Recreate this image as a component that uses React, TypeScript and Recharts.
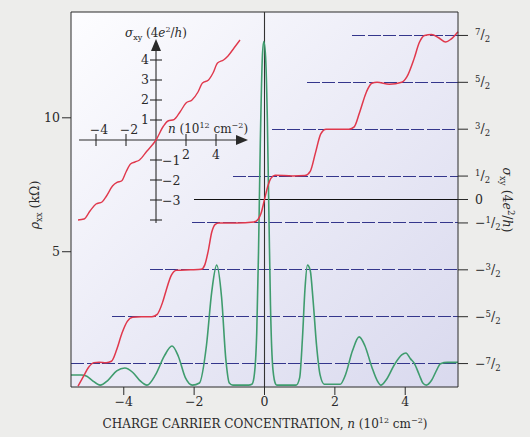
import {
  ComposedChart,
  Line,
  XAxis,
  YAxis,
  CartesianGrid,
  ReferenceLine,
  ReferenceDot
} from 'recharts';

// main sigma_xy (4e^2/h) vs n (10^12 cm^-2), right axis
const SIGMA_MAIN: [number, number][] = [
  [-5.3, -3.98], [-5.15, -3.78], [-5.0, -3.58], [-4.85, -3.48], [-4.7, -3.47], [-4.5, -3.48],
  [-4.35, -3.45], [-4.2, -3.2], [-4.05, -2.85], [-3.9, -2.6], [-3.75, -2.51], [-3.5, -2.5],
  [-3.2, -2.5], [-3.05, -2.45], [-2.9, -2.2], [-2.8, -1.95], [-2.65, -1.62], [-2.5, -1.51],
  [-2.1, -1.5], [-1.8, -1.49], [-1.7, -1.4], [-1.6, -1.1], [-1.5, -0.7], [-1.4, -0.53],
  [-1.3, -0.5], [-0.8, -0.5], [-0.3, -0.48], [-0.18, -0.42], [-0.1, -0.3], [0, 0],
  [0.1, 0.3], [0.18, 0.45], [0.3, 0.52], [0.8, 0.5], [1.15, 0.51], [1.3, 0.6], [1.45, 1.0],
  [1.6, 1.4], [1.75, 1.5], [2.0, 1.5], [2.4, 1.5], [2.55, 1.55], [2.7, 1.85], [2.9, 2.3],
  [3.05, 2.48], [3.2, 2.5], [3.55, 2.46], [3.9, 2.5], [4.05, 2.62], [4.25, 3.0], [4.4, 3.35],
  [4.55, 3.5], [4.75, 3.52], [4.95, 3.45], [5.15, 3.36], [5.3, 3.42], [5.5, 3.58]
];

// rho_xx (kOhm) vs n, left axis
const RHO: [number, number][] = [
  [-5.5, 0.4], [-5.2, 0.4], [-5.05, 0.35], [-4.9, 0.2], [-4.67, 0.02], [-4.45, 0.2],
  [-4.2, 0.55], [-3.97, 0.66], [-3.75, 0.5], [-3.55, 0.2], [-3.34, 0.02], [-3.1, 0.4],
  [-2.85, 1.1], [-2.63, 1.48], [-2.45, 1.1], [-2.25, 0.3], [-2.05, 0.02], [-1.85, 0.1],
  [-1.65, 1.5], [-1.5, 3.5], [-1.36, 4.5], [-1.22, 3.3], [-1.1, 1.0], [-1.0, 0.1],
  [-0.9, 0.02], [-0.45, 0.02], [-0.36, 0.05], [-0.3, 0.3], [-0.22, 2], [-0.17, 5],
  [-0.12, 9], [-0.06, 12.3], [-0.02, 12.85], [0.03, 12.3], [0.08, 10], [0.13, 6],
  [0.17, 3], [0.24, 0.6], [0.32, 0.05], [0.35, 0.02], [0.9, 0.02], [1.0, 0.3],
  [1.08, 1.8], [1.15, 3.6], [1.22, 4.5], [1.3, 4.3], [1.38, 3.2], [1.48, 1.5],
  [1.58, 0.4], [1.7, 0.05], [2.15, 0.05], [2.3, 0.4], [2.5, 1.3], [2.69, 1.82],
  [2.85, 1.5], [3.05, 0.7], [3.2, 0.2], [3.31, 0.02], [3.45, 0.2], [3.7, 0.8],
  [3.9, 1.15], [4.02, 1.22], [4.15, 1.0], [4.25, 0.85], [4.4, 0.4], [4.5, 0.1],
  [4.6, 0.02], [4.75, 0.2], [4.9, 0.6], [5.0, 0.82], [5.2, 0.87], [5.5, 0.87]
];

// inset: sigma_xy (4e^2/h) vs n
const SIGMA_INSET: [number, number][] = [
  [-5.2, -4.0], [-4.8, -3.95], [-4.4, -3.55], [-4.0, -3.2], [-3.6, -3.1], [-3.3, -2.8],
  [-2.9, -2.3], [-2.6, -2.12], [-2.3, -2.05], [-2.0, -1.6], [-1.7, -1.2], [-1.4, -1.1],
  [-1.1, -1.0], [-0.6, -0.55], [0, 0], [0.5, 0.7], [0.8, 0.95], [1.2, 1.02], [1.6, 1.4],
  [2.0, 1.85], [2.4, 2.0], [2.8, 2.4], [3.1, 2.85], [3.5, 3.0], [3.8, 3.35], [4.1, 3.85],
  [4.5, 4.0], [4.8, 4.2], [5.2, 4.6], [5.6, 5.0]
];

// plateau guide lines: level and where they start (n)
const PLATEAUS: [number, number][] = [
  [3.5, 2.5], [2.5, 1.2], [1.5, 0.2], [0.5, -0.9],
  [-0.5, -2.07], [-1.5, -3.26], [-2.5, -4.33], [-3.5, -5.5]
];
const ZERO_START = -2.0;

const X_TICKS = [-4, -2, 0, 2, 4];
const RHO_TICKS = [5, 10];
const SIGMA_TICKS = [-3.5, -2.5, -1.5, -0.5, 0, 0.5, 1.5, 2.5, 3.5];
const INSET_X_TICKS = [-4, -2, 2, 4];
const INSET_Y_TICKS = [-4, -3, -2, -1, 1, 2, 3, 4];

const toPts = (arr: [number, number][]) => arr.map(([x, y]) => ({ x, y }));

const FONT = "'DejaVu Serif', serif";
const INK = '#2a2a2a';
const RED = '#e0384c';
const GREEN = '#3f9c6e';
const NAVY = '#34368c';
const minus = (v: number) => (v < 0 ? '\u2212' + Math.abs(v) : String(v));

const SigmaTick = (props: any) => {
  const { x, y, payload } = props;
  const v: number = payload.value;
  if (v === 0) {
    return <text x={x + 5} y={y + 4} fontSize={12.5} fontFamily={FONT} fill={INK}>0</text>;
  }
  return (
    <text x={x + 5} y={y + 4} fontSize={12.5} fontFamily={FONT} fill={INK}>
      {v < 0 ? '\u2212' : ''}
      <tspan fontSize={8.5} dy={-4}>{Math.abs(v) * 2}</tspan>
      <tspan dy={4}>/</tspan>
      <tspan fontSize={8.5} dy={3}>2</tspan>
    </text>
  );
};

const textShape = (s: any, anchor: string, dx: number, dy: number, size = 12) =>
  (p: any) => (
    <text x={p.cx + dx} y={p.cy + dy} textAnchor={anchor} fontSize={size} fontFamily={FONT} fill={INK}>
      {s}
    </text>
  );

const App = () => {
  return (
    <div style={{ position: 'absolute', left: 0, top: 0, width: 530, height: 437, background: '#ededeb' }}>
      <ComposedChart width={530} height={437} margin={{ top: 12, right: 12, bottom: 20, left: 31 }}>
        <defs>
          <linearGradient id="plotBg" x1="0" y1="0" x2="1" y2="1">
            <stop offset="0%" stopColor="#fdfdff" />
            <stop offset="100%" stopColor="#d9d9ee" />
          </linearGradient>
        </defs>
        <CartesianGrid xAxisId="n" yAxisId="rho" horizontal={false} vertical={false} fill="url(#plotBg)" />
        <XAxis
          xAxisId="n"
          dataKey="x"
          type="number"
          domain={[-5.5, 5.5]}
          ticks={X_TICKS}
          tickFormatter={minus}
          tickSize={8}
          height={30}
          stroke={INK}
          tick={{ fontSize: 12.5, fontFamily: FONT, fill: INK }}
          label={{
            content: () => (
              <text x={265} y={428} textAnchor="middle" fontSize={12} fontFamily={FONT} fill={INK}>
                CHARGE CARRIER CONCENTRATION, <tspan fontStyle="italic">n</tspan> (10
                <tspan fontSize={8} dy={-5}>12</tspan>
                <tspan dy={5}> cm</tspan>
                <tspan fontSize={8} dy={-5}>{'\u22122'}</tspan>
                <tspan dy={5}>)</tspan>
              </text>
            )
          }}
        />
        <XAxis xAxisId="ix" dataKey="x" type="number" domain={[-5.667, 20.133]} height={0} hide />
        <YAxis
          yAxisId="rho"
          type="number"
          domain={[-0.05, 13.95]}
          ticks={RHO_TICKS}
          tickSize={9}
          width={40}
          stroke={INK}
          tick={{ fontSize: 12.5, fontFamily: FONT, fill: INK }}
          label={{
            content: () => (
              <text transform="translate(39,205) rotate(-90)" textAnchor="middle" fontSize={12.5} fontFamily={FONT} fill={INK}>
                <tspan fontStyle="italic">{'\u03c1'}</tspan>
                <tspan fontSize={8.5} dy={3}>xx</tspan>
                <tspan dy={-3}> (k{'\u03a9'})</tspan>
              </text>
            )
          }}
        />
        <YAxis
          yAxisId="s"
          orientation="right"
          type="number"
          domain={[-4, 4]}
          ticks={SIGMA_TICKS}
          tickSize={10}
          width={60}
          stroke={INK}
          tick={<SigmaTick />}
          label={{
            content: () => (
              <text transform="translate(503,200) rotate(90)" textAnchor="middle" fontSize={12.5} fontFamily={FONT} fill={INK}>
                <tspan fontStyle="italic">{'\u03c3'}</tspan>
                <tspan fontSize={8.5} dy={3}>xy</tspan>
                <tspan dy={-3}> (4</tspan>
                <tspan fontStyle="italic">e</tspan>
                <tspan fontSize={8.5} dy={-5}>2</tspan>
                <tspan dy={5}>/</tspan>
                <tspan fontStyle="italic">h</tspan>
                <tspan>)</tspan>
              </text>
            )
          }}
        />
        <YAxis yAxisId="iy" type="number" domain={[-12.35, 6.4]} width={0} hide />

        <ReferenceLine xAxisId="n" yAxisId="rho" y={13.95} stroke={INK} strokeWidth={1.2} />

        {PLATEAUS.map(([lvl, start]) => (
          <ReferenceLine
            key={lvl}
            xAxisId="n"
            yAxisId="s"
            segment={[{ x: start, y: lvl }, { x: 5.5, y: lvl }]}
            stroke={NAVY}
            strokeWidth={1}
            strokeDasharray="13 2.5"
            shapeRendering="crispEdges"
          />
        ))}
        <ReferenceLine
          xAxisId="n"
          yAxisId="s"
          segment={[{ x: ZERO_START, y: 0 }, { x: 5.5, y: 0 }]}
          stroke="#111"
          strokeWidth={1}
          shapeRendering="crispEdges"
        />
        <ReferenceLine xAxisId="n" yAxisId="s" x={0} stroke="#333" strokeWidth={1.1} />

        {/* inset axes */}
        <ReferenceLine xAxisId="ix" yAxisId="iy" segment={[{ x: -5.13, y: 0 }, { x: 5.6, y: 0 }]} stroke={INK} strokeWidth={1.1} />
        <ReferenceLine xAxisId="ix" yAxisId="iy" segment={[{ x: 0, y: -4.15 }, { x: 0, y: 4.75 }]} stroke={INK} strokeWidth={1.1} />
        {INSET_X_TICKS.map((t) => (
          <ReferenceLine key={'xt' + t} xAxisId="ix" yAxisId="iy" segment={[{ x: t, y: -0.3 }, { x: t, y: 0.3 }]} stroke={INK} strokeWidth={1.1} />
        ))}
        {INSET_Y_TICKS.map((t) => (
          <ReferenceLine key={'yt' + t} xAxisId="ix" yAxisId="iy" segment={[{ x: -0.4, y: t }, { x: 0.4, y: t }]} stroke={INK} strokeWidth={1.1} />
        ))}
        <ReferenceDot
          xAxisId="ix"
          yAxisId="iy"
          x={5.6}
          y={0}
          shape={(p: any) => <polygon points={`${p.cx + 8},${p.cy} ${p.cx - 4},${p.cy - 5} ${p.cx - 4},${p.cy + 5}`} fill={INK} />}
        />
        <ReferenceDot
          xAxisId="ix"
          yAxisId="iy"
          x={0}
          y={4.75}
          shape={(p: any) => <polygon points={`${p.cx},${p.cy - 6} ${p.cx - 5},${p.cy + 6} ${p.cx + 5},${p.cy + 6}`} fill={INK} />}
        />
        {INSET_X_TICKS.map((t) => (
          <ReferenceDot
            key={'xl' + t}
            xAxisId="ix"
            yAxisId="iy"
            x={t}
            y={0}
            shape={t < 0 ? textShape(minus(t), 'middle', 3, -6, 12.5) : textShape(minus(t), 'middle', 0, 19, 12.5)}
          />
        ))}
        {INSET_Y_TICKS.filter((t) => t > -4).map((t) => (
          <ReferenceDot
            key={'yl' + t}
            xAxisId="ix"
            yAxisId="iy"
            x={0}
            y={t}
            shape={t > 0 ? textShape(String(t), 'end', -7, 4, 12.5) : textShape(minus(t), 'start', 6, 5, 12.5)}
          />
        ))}
        <ReferenceDot
          xAxisId="ix"
          yAxisId="iy"
          x={0.8}
          y={0.35}
          shape={textShape(
            <>
              <tspan fontStyle="italic">n</tspan> (10<tspan fontSize={8} dy={-5}>12</tspan>
              <tspan dy={5}> cm</tspan><tspan fontSize={8} dy={-5}>{'\u22122'}</tspan><tspan dy={5}>)</tspan>
            </>,
            'start',
            0,
            0
          )}
        />
        <ReferenceDot
          xAxisId="ix"
          yAxisId="iy"
          x={0}
          y={5.15}
          shape={textShape(
            <>
              <tspan fontStyle="italic">{'\u03c3'}</tspan><tspan fontSize={8} dy={3}>xy</tspan>
              <tspan dy={-3}> (4</tspan><tspan fontStyle="italic">e</tspan>
              <tspan fontSize={8} dy={-5}>2</tspan><tspan dy={5}>/</tspan>
              <tspan fontStyle="italic">h</tspan>)
            </>,
            'middle',
            0,
            0
          )}
        />

        <Line
          xAxisId="ix"
          yAxisId="iy"
          data={toPts(SIGMA_INSET)}
          dataKey="y"
          type="monotone"
          stroke={RED}
          strokeWidth={1.4}
          dot={false}
          isAnimationActive={false}
        />
        <Line
          xAxisId="n"
          yAxisId="rho"
          data={toPts(RHO)}
          dataKey="y"
          type="monotone"
          stroke={GREEN}
          strokeWidth={1.6}
          dot={false}
          isAnimationActive={false}
        />
        <Line
          xAxisId="n"
          yAxisId="s"
          data={toPts(SIGMA_MAIN)}
          dataKey="y"
          type="monotone"
          stroke={RED}
          strokeWidth={1.5}
          dot={false}
          isAnimationActive={false}
        />
      </ComposedChart>
    </div>
  );
};

export default App;
